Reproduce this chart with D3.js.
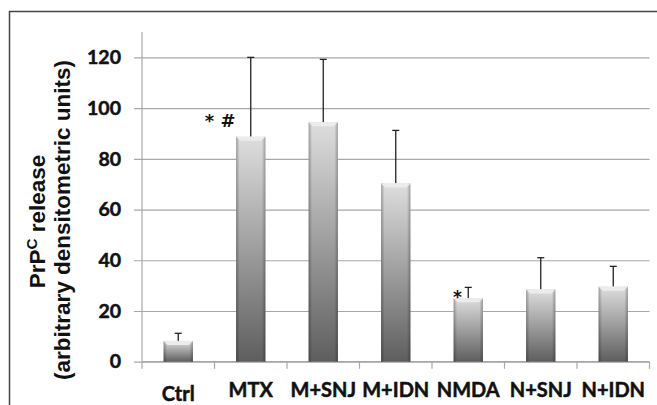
<!DOCTYPE html>
<html>
<head>
<meta charset="utf-8">
<script src="https://cdn.jsdelivr.net/npm/d3@7"></script>
<style>
  body { margin: 0; background: #fff; }
  svg { display: block; }
  text { font-family: Lato, "Open Sans", sans-serif; font-weight: bold; fill: #111; }
</style>
</head>
<body>
<svg id="chart"></svg>
<script>
var categories = ["Ctrl", "MTX", "M+SNJ", "M+IDN", "NMDA", "N+SNJ", "N+IDN"];
var means = [8.2, 88.7, 94.4, 70.3, 25.0, 28.5, 29.6];
var errors = [3.0, 31.3, 24.8, 20.9, 4.3, 12.5, 8.0];
var yTicks = [0, 20, 40, 60, 80, 100, 120];
var marks = [{cat: "MTX", text: "* #"}, {cat: "NMDA", text: "*"}];

var W = 657, H = 405;
var margin = {top: 32, left: 142, right: 7.5, bottom: 43.3}
  , width = W - margin.left - margin.right
  , height = H - margin.top - margin.bottom;

var svg = d3.select("#chart").attr("width", W).attr("height", H);

// frame (top + left edges only visible)
svg.append("line").attr("x1", 9).attr("x2", W).attr("y1", 11.5).attr("y2", 11.5)
    .attr("stroke", "#444").attr("stroke-width", 1.5);
svg.append("line").attr("x1", 9.5).attr("x2", 9.5).attr("y1", 11).attr("y2", H)
    .attr("stroke", "#444").attr("stroke-width", 1.5);

var defs = svg.append("defs");
var vg = defs.append("linearGradient").attr("id", "barV")
    .attr("x1", 0).attr("x2", 0).attr("y1", 0).attr("y2", 1);
vg.append("stop").attr("offset", "0%").attr("stop-color", "#dedede");
vg.append("stop").attr("offset", "100%").attr("stop-color", "#5e5e5e");
var hg = defs.append("linearGradient").attr("id", "barH")
    .attr("x1", 0).attr("x2", 1).attr("y1", 0).attr("y2", 0);
hg.append("stop").attr("offset", "0%").attr("stop-color", "#000").attr("stop-opacity", 0.28);
hg.append("stop").attr("offset", "12%").attr("stop-color", "#000").attr("stop-opacity", 0);
hg.append("stop").attr("offset", "88%").attr("stop-color", "#000").attr("stop-opacity", 0);
hg.append("stop").attr("offset", "100%").attr("stop-color", "#000").attr("stop-opacity", 0.28);

var g = svg.append("g")
    .attr("transform", "translate(" + margin.left + "," + margin.top + ")");

var x = d3.scaleBand().domain(categories).range([0, width]).padding(0);
var y = d3.scaleLinear().domain([0, 130]).range([height, 0]);

// gridlines + y labels
var yAxis = g.append("g")
    .call(d3.axisLeft(y).tickValues(yTicks).tickSize(-width).tickPadding(21));
yAxis.select(".domain").remove();
yAxis.selectAll(".tick line").attr("x1", -8).attr("stroke", "#a8a8a8").attr("stroke-width", 1.2);
yAxis.selectAll(".tick text")
    .style("font-family", "Lato, sans-serif").style("font-weight", "bold")
    .style("font-size", "19.5px").attr("fill", "#111")
    .attr("stroke", "#111").attr("stroke-width", 0.5);

// y axis line
g.append("line").attr("x1", 0).attr("x2", 0).attr("y1", 0).attr("y2", height)
    .attr("stroke", "#a8a8a8").attr("stroke-width", 1.2);

// x axis line + boundary ticks
g.append("line").attr("x1", 0).attr("x2", width).attr("y1", height).attr("y2", height)
    .attr("stroke", "#a8a8a8").attr("stroke-width", 1.2);
var bounds = categories.map(function(c){ return x(c); }).concat([width]);
g.selectAll(".xtick").data(bounds).enter().append("line")
    .attr("class", "xtick")
    .attr("x1", function(d){ return d; }).attr("x2", function(d){ return d; })
    .attr("y1", height).attr("y2", height + 7)
    .attr("stroke", "#a8a8a8").attr("stroke-width", 1.2);

var bw = x.bandwidth() * 0.405;
function bx(c){ return x(c) + (x.bandwidth() - bw) / 2; }

var data = categories.map(function(c, i){ return {cat: c, v: means[i], e: errors[i]}; });

// error bars
var eb = g.selectAll(".err").data(data).enter().append("g").attr("class", "err");
eb.append("line")
    .attr("x1", function(d){ return x(d.cat) + x.bandwidth() / 2; })
    .attr("x2", function(d){ return x(d.cat) + x.bandwidth() / 2; })
    .attr("y1", function(d){ return y(d.v); })
    .attr("y2", function(d){ return y(d.v + d.e); })
    .attr("stroke", "#222").attr("stroke-width", 1.3);
eb.append("line")
    .attr("x1", function(d){ return x(d.cat) + x.bandwidth() / 2 - 3.5; })
    .attr("x2", function(d){ return x(d.cat) + x.bandwidth() / 2 + 3.5; })
    .attr("y1", function(d){ return y(d.v + d.e); })
    .attr("y2", function(d){ return y(d.v + d.e); })
    .attr("stroke", "#222").attr("stroke-width", 1.3);

// bars
var bars = g.selectAll(".bar").data(data).enter().append("g").attr("class", "bar");
bars.append("rect")
    .attr("x", function(d){ return bx(d.cat); })
    .attr("y", function(d){ return y(d.v); })
    .attr("width", bw)
    .attr("height", function(d){ return height - y(d.v); })
    .attr("fill", "url(#barV)");
bars.append("rect")
    .attr("x", function(d){ return bx(d.cat); })
    .attr("y", function(d){ return y(d.v); })
    .attr("width", bw)
    .attr("height", function(d){ return height - y(d.v); })
    .attr("fill", "url(#barH)");
// top bevel
bars.append("path")
    .attr("d", function(d){
        var x0 = bx(d.cat), y0 = y(d.v);
        return "M" + x0 + "," + y0 + "L" + (x0 + bw) + "," + y0 +
               "L" + (x0 + bw - 4) + "," + (y0 + 4) + "L" + (x0 + 4) + "," + (y0 + 4) + "Z";
    })
    .attr("fill", "#ececec");

// significance marks
g.selectAll(".mark").data(marks).enter().append("text")
    .attr("class", "mark")
    .attr("x", function(d){ return d.cat === "MTX" ? bx(d.cat) - 0.5 : bx(d.cat) + 4; })
    .attr("y", function(d){
        var v = means[categories.indexOf(d.cat)];
        return d.cat === "MTX" ? y(v) - 10 : y(v) + 4.5;
    })
    .attr("text-anchor", function(d){ return d.cat === "MTX" ? "end" : "middle"; })
    .style("font-family", "'DejaVu Sans', sans-serif")
    .style("font-size", function(d){ return d.cat === "MTX" ? "18px" : "17px"; })
    .text(function(d){ return d.text; });

// x labels
g.selectAll(".xlab").data(categories).enter().append("text")
    .attr("class", "xlab")
    .attr("x", function(d){ return x(d) + x.bandwidth() / 2; })
    .attr("y", function(d){ return d === "Ctrl" ? height + 39.5 : height + 35.5; })
    .attr("text-anchor", "middle")
    .style("font-size", "20px")
    .attr("stroke", "#111").attr("stroke-width", 0.5)
    .text(function(d){ return d; });

// y title
var titleFont = "'Liberation Sans', Arial, sans-serif";
var t2 = svg.append("text")
    .attr("transform", "translate(70,220) rotate(-90)")
    .attr("text-anchor", "middle")
    .style("font-family", titleFont)
    .style("font-size", "18px")
    .text("(arbitrary densitometric units)");
var fs = 18 * 320 / t2.node().getComputedTextLength();
t2.style("font-size", fs + "px");
var t = svg.append("text")
    .attr("transform", "translate(45,221.5) rotate(-90)")
    .attr("text-anchor", "middle")
    .style("font-family", titleFont)
    .style("font-size", fs + "px");
t.append("tspan").text("PrP");
t.append("tspan").attr("baseline-shift", "super").style("font-size", (fs * 0.68) + "px").text("C");
t.append("tspan").text(" release");
</script>
</body>
</html>
